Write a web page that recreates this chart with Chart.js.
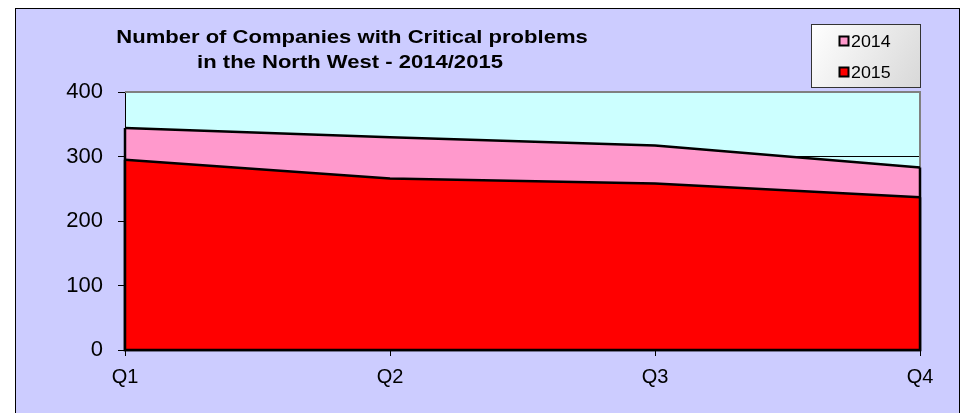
<!DOCTYPE html>
<html>
<head>
<meta charset="utf-8">
<script src="https://cdn.jsdelivr.net/npm/chart.js@4.4.1/dist/chart.umd.min.js"></script>
<style>
    body { margin: 0; background: #fff; }
    #wrap { width: 961px; height: 413px; }
</style>
</head>
<body>
<div id="wrap"><canvas id="myChart"></canvas></div>
<script>
// 차트 데이터
const quarters = ['Q1', 'Q2', 'Q3', 'Q4'];
const seriesNames = ['2014', '2015'];
const values2014 = [344, 330, 317, 283];
const values2015 = [295, 266, 258, 237];
const seriesColors = ['#FF99CC', '#FF0000'];
const titleLines = ['Number of Companies with Critical problems', 'in the North West - 2014/2015'];

const FONT = "Arial, 'Liberation Sans', sans-serif";

// 가로로 늘린 글자
function wideText(c, text, x, y, sx) {
    c.save();
    c.translate(x, y);
    c.scale(sx, 1);
    c.fillText(text, 0, 0);
    c.restore();
}

// 배경, 테두리, 제목, 범례
const framePlugin = {
    id: 'frame',
    beforeDraw(chart) {
        const c = chart.ctx;
        const a = chart.chartArea;
        c.save();
        c.fillStyle = '#ffffff';
        c.fillRect(0, 0, chart.width, chart.height);
        c.fillStyle = '#CCCCFF';
        c.fillRect(15, 8, 945, 410);
        c.strokeStyle = '#000';
        c.lineWidth = 1;
        c.strokeRect(15.5, 8.5, 944, 410);
        c.fillStyle = '#CCFFFF';
        c.fillRect(a.left, a.top, a.right - a.left, a.bottom - a.top);

        c.fillStyle = '#000';
        c.font = 'bold 19px ' + FONT;
        c.textAlign = 'center';
        c.textBaseline = 'alphabetic';
        wideText(c, titleLines[0], 352, 43, 1.16);
        wideText(c, titleLines[1], 350, 68, 1.16);
        c.restore();
    },
    beforeDatasetsDraw(chart) {
        const c = chart.ctx;
        const a = chart.chartArea;
        c.save();
        c.strokeStyle = '#808080';
        c.lineWidth = 2;
        c.beginPath();
        c.moveTo(a.left, a.top);
        c.lineTo(a.right, a.top);
        c.lineTo(a.right, a.bottom);
        c.stroke();
        c.restore();
    },
    afterDatasetDraw(chart, args) {
        // 영역 외곽선 (양 끝 세로선과 바닥선)
        const pts = args.meta.data;
        if (!pts.length) return;
        const c = chart.ctx;
        const base = chart.scales.y.getPixelForValue(0);
        const first = pts[0];
        const last = pts[pts.length - 1];
        c.save();
        c.strokeStyle = '#000';
        c.lineWidth = 2.5;
        c.beginPath();
        c.moveTo(first.x, first.y);
        c.lineTo(first.x, base);
        c.lineTo(last.x, base);
        c.lineTo(last.x, last.y);
        c.stroke();
        c.restore();
    },
    afterDraw(chart) {
        const c = chart.ctx;
        const x = 811.5, y = 24.5, w = 109, h = 63;
        c.save();
        const g = c.createLinearGradient(x, y, x + w, y + h);
        g.addColorStop(0, '#ffffff');
        g.addColorStop(1, '#d8d8d8');
        c.fillStyle = g;
        c.fillRect(x, y, w, h);
        c.strokeStyle = '#333';
        c.lineWidth = 1;
        c.strokeRect(x, y, w, h);

        c.font = '17px ' + FONT;
        c.textAlign = 'left';
        c.textBaseline = 'middle';
        const rows = [41, 72];
        chart.data.datasets.forEach(function (ds, i) {
            const ry = rows[i];
            c.fillStyle = ds.backgroundColor;
            c.fillRect(839.5, ry - 4.5, 9, 9);
            c.strokeStyle = '#000';
            c.lineWidth = 2;
            c.strokeRect(839.5, ry - 4.5, 9, 9);
            c.fillStyle = '#000';
            wideText(c, ds.label, 851, ry + 1, 1.05);
        });
        c.restore();
    }
};

let ctx = document.getElementById('myChart').getContext('2d');

let myChart = new Chart(ctx, {
    type: 'line',
    data: {
        labels: quarters,
        datasets: [{
            label: seriesNames[0],
            data: values2014,
            backgroundColor: seriesColors[0],
            borderColor: '#000',
            borderWidth: 2.5,
            fill: 'origin',
            order: 2
        }, {
            label: seriesNames[1],
            data: values2015,
            backgroundColor: seriesColors[1],
            borderColor: '#000',
            borderWidth: 2.5,
            fill: 'origin',
            order: 1
        }]
    },
    options: {
        responsive: true,
        maintainAspectRatio: false,
        animation: false,
        devicePixelRatio: 1,
        elements: {
            line: { tension: 0 },
            point: { radius: 0, hoverRadius: 0 }
        },
        layout: {
            padding: { top: 92, left: 0, right: 41, bottom: 0 }
        },
        plugins: {
            legend: { display: false },
            title: { display: false },
            tooltip: { enabled: false }
        },
        scales: {
            x: {
                afterFit: function (scale) { scale.height = 63; },
                grid: {
                    drawOnChartArea: false,
                    drawTicks: true,
                    tickLength: 6,
                    color: '#000'
                },
                border: { display: false },
                ticks: {
                    color: '#000',
                    padding: 9,
                    maxRotation: 0,
                    font: { family: FONT, size: 20 }
                }
            },
            y: {
                min: 0,
                max: 400,
                afterFit: function (scale) { scale.width = 125; },
                grid: {
                    color: '#000',
                    lineWidth: 1,
                    tickLength: 7
                },
                border: { display: true, color: '#000', width: 1 },
                ticks: {
                    stepSize: 100,
                    color: '#000',
                    padding: 15,
                    font: { family: FONT, size: 22 }
                }
            }
        }
    },
    plugins: [framePlugin]
});
</script>
</body>
</html>
